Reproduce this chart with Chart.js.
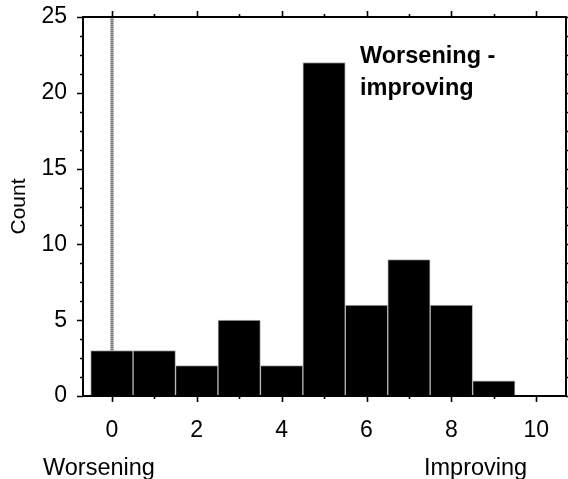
<!DOCTYPE html>
<html lang="en">
<head>
    <meta charset="UTF-8">
    <title>Worsening - improving</title>
    <script src="https://cdn.jsdelivr.net/npm/chart.js@4.4.1/dist/chart.umd.min.js"></script>
    <style>
        html, body { margin: 0; padding: 0; background: #fff; }
        canvas { display: block; }
    </style>
</head>
<body>
    <canvas id="chart" width="568" height="479"></canvas>
    <script>
        // histogram bins (centre of each bin) and counts
        const bins = [0, 1, 2, 3, 4, 5, 6, 7, 8, 9];
        const counts = [3, 3, 2, 5, 2, 22, 6, 9, 6, 1];
        const xTicks = [0, 2, 4, 6, 8, 10];
        const yTicks = [0, 5, 10, 15, 20, 25];
        const xMinor = [1, 3, 5, 7, 9];
        const yMinor = [1.25, 2.5, 3.75, 6.25, 7.5, 8.75, 11.25, 12.5, 13.75, 16.25, 17.5, 18.75, 21.25, 22.5, 23.75];

        const FONT = "'Liberation Sans', Arial, Helvetica, sans-serif";

        // dotted line at zero, drawn behind the bars
        const zeroLine = {
            id: 'zeroLine',
            beforeDatasetsDraw(chart) {
                const {ctx, chartArea, scales} = chart;
                const x = Math.round(scales.x.getPixelForValue(0));
                ctx.save();
                ctx.lineWidth = 3;
                ctx.strokeStyle = '#b0b0b0';
                ctx.beginPath();
                ctx.moveTo(x, chartArea.top);
                ctx.lineTo(x, chartArea.bottom);
                ctx.stroke();
                ctx.strokeStyle = '#707070';
                ctx.setLineDash([1, 1]);
                ctx.beginPath();
                ctx.moveTo(x, chartArea.top);
                ctx.lineTo(x, chartArea.bottom);
                ctx.stroke();
                ctx.restore();
            }
        };

        // box frame with outward major / minor ticks on all four sides
        const frame = {
            id: 'frame',
            afterDatasetsDraw(chart) {
                const {ctx, chartArea: a, scales} = chart;
                ctx.save();
                ctx.strokeStyle = '#000';
                ctx.lineWidth = 2;
                ctx.strokeRect(a.left, a.top, a.right - a.left, a.bottom - a.top);
                ctx.lineWidth = 1.6;
                ctx.beginPath();
                const xt = (v, len) => {
                    const x = Math.round(scales.x.getPixelForValue(v)) + 0.5;
                    ctx.moveTo(x, a.bottom); ctx.lineTo(x, a.bottom + len);
                    ctx.moveTo(x, a.top); ctx.lineTo(x, a.top - len);
                };
                const yt = (v, len) => {
                    const y = Math.round(scales.y.getPixelForValue(v)) + 0.5;
                    ctx.moveTo(a.left, y); ctx.lineTo(a.left - len, y);
                    ctx.moveTo(a.right, y); ctx.lineTo(a.right + len, y);
                };
                xTicks.forEach(v => xt(v, 6));
                xMinor.forEach(v => xt(v, 3));
                yTicks.forEach(v => yt(v, 6));
                yMinor.forEach(v => yt(v, 3));
                ctx.stroke();
                ctx.restore();
            },
            afterDraw(chart) {
                const ctx = chart.ctx;
                ctx.save();
                ctx.fillStyle = '#000';
                ctx.textBaseline = 'alphabetic';
                ctx.textAlign = 'left';
                ctx.font = 'bold 23.5px ' + FONT;
                ctx.fillText('Worsening -', 360, 63);
                ctx.fillText('improving', 360, 95);
                ctx.font = '23.5px ' + FONT;
                ctx.fillText('Worsening', 43, 475);
                ctx.fillText('Improving', 424, 475);
                ctx.restore();
            }
        };

        new Chart(document.getElementById('chart'), {
            type: 'bar',
            data: {
                datasets: [{
                    data: bins.map((b, i) => ({x: b, y: counts[i]})),
                    backgroundColor: '#000',
                    borderColor: '#b4b4b4',
                    borderWidth: 1,
                    barPercentage: 1,
                    categoryPercentage: 1
                }]
            },
            options: {
                responsive: false,
                animation: false,
                layout: {padding: {top: 17, right: 2, left: 0, bottom: 0}},
                plugins: {legend: {display: false}, tooltip: {enabled: false}},
                scales: {
                    x: {
                        type: 'linear',
                        min: -0.68,
                        max: 10.7,
                        offset: false,
                        afterBuildTicks: s => { s.ticks = xTicks.map(v => ({value: v})); },
                        afterFit: s => {
                            s.height = 83;
                            s.paddingLeft = 0;
                            s.paddingRight = 0;
                        },
                        grid: {display: false, drawTicks: false, offset: false},
                        border: {display: false},
                        ticks: {
                            color: '#000',
                            padding: 21,
                            maxRotation: 0,
                            font: {family: FONT, size: 23}
                        }
                    },
                    y: {
                        min: 0,
                        max: 25,
                        afterBuildTicks: s => { s.ticks = yTicks.map(v => ({value: v})); },
                        afterFit: s => {
                            s.width = 83;
                            s.paddingTop = 0;
                            s.paddingBottom = 0;
                        },
                        grid: {display: false, drawTicks: false},
                        border: {display: false},
                        ticks: {
                            color: '#000',
                            padding: 16,
                            font: {family: FONT, size: 23}
                        },
                        title: {
                            display: true,
                            text: 'Count',
                            color: '#000',
                            padding: {top: 7, bottom: 0},
                            font: {family: FONT, size: 21}
                        }
                    }
                }
            },
            plugins: [zeroLine, frame]
        });
    </script>
</body>
</html>
